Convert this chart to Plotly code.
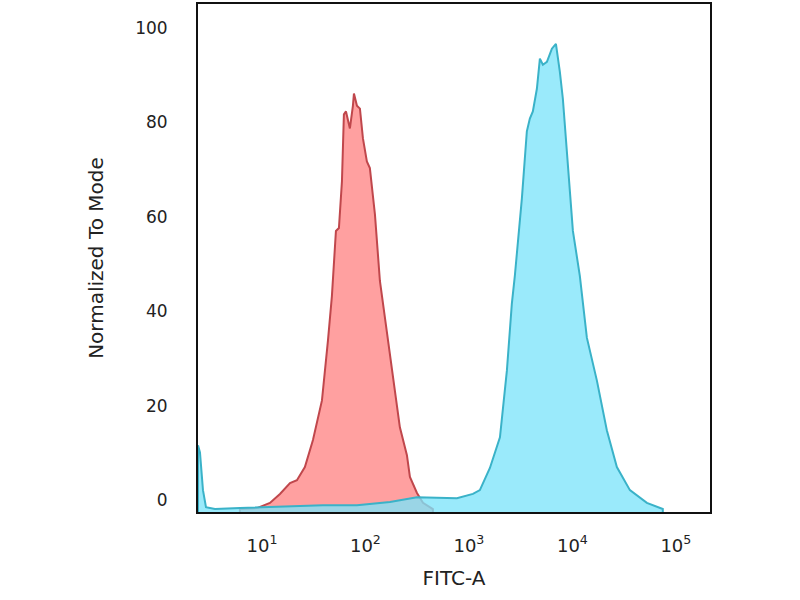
import plotly.graph_objects as go

# Red histogram (isotype/control): log10(FITC-A) and normalized-to-mode values
red_log_fitc = [0.787, 0.952, 1.077, 1.174, 1.271, 1.338, 1.415, 1.493, 1.580, 1.638,
                1.676, 1.715, 1.744, 1.773, 1.792, 1.812, 1.850, 1.879, 1.889, 1.918,
                1.947, 1.976, 2.014, 2.043, 2.092, 2.140, 2.217, 2.304, 2.333, 2.401,
                2.430, 2.498, 2.556, 2.652]
red_mode = [-1.9, -1.7, -0.6, 1.3, 3.6, 4.2, 7.0, 12.7, 21.1, 33.8,
            43.2, 57.0, 57.6, 67.5, 81.7, 82.3, 78.7, 83.5, 86.1, 83.5,
            82.9, 76.6, 71.7, 70.3, 60.5, 46.4, 33.8, 19.6, 15.4, 9.5,
            4.9, 1.5, -0.6, -1.9]

# Cyan histogram (stained sample)
blue_log_fitc = [0.382, 0.401, 0.430, 0.459, 0.546, 0.787, 1.077, 1.589, 1.918, 2.237,
                 2.498, 2.884, 3.039, 3.106, 3.203, 3.300, 3.367, 3.415, 3.444, 3.512,
                 3.560, 3.589, 3.618, 3.657, 3.686, 3.715, 3.754, 3.802, 3.841, 3.879,
                 3.908, 3.957, 4.005, 4.072, 4.140, 4.237, 4.333, 4.430, 4.556, 4.720,
                 4.874]
blue_mode = [11.6, 10.1, 2.1, -1.5, -1.9, -1.7, -1.5, -1.1, -1.1, -0.4,
             0.6, 0.4, 1.3, 2.1, 6.8, 13.3, 27.4, 41.6, 47.5, 63.9,
             78.1, 80.8, 82.3, 87.1, 93.5, 92.2, 92.8, 95.6, 96.6, 90.7,
             85.0, 71.1, 57.0, 47.5, 34.4, 25.3, 14.8, 7.0, 2.1, -0.6,
             -1.9]

y_ticks = [0, 20, 40, 60, 80, 100]
x_ticks = [10, 100, 1000, 10000, 100000]
x_tick_text = ["10<sup>1</sup>", "10<sup>2</sup>", "10<sup>3</sup>", "10<sup>4</sup>", "10<sup>5</sup>"]

FLOOR = -5


def closed(logs, vals):
    xs = [10 ** logs[0]] + [10 ** v for v in logs] + [10 ** logs[-1]]
    ys = [FLOOR] + list(vals) + [FLOOR]
    return xs, ys


rx, ry = closed(red_log_fitc, red_mode)
bx, by = closed(blue_log_fitc, blue_mode)

fig = go.Figure()
fig.add_trace(go.Scatter(x=rx, y=ry, mode="lines", fill="toself",
                         fillcolor="rgba(255,160,160,1)",
                         line=dict(color="#c0474c", width=2), hoverinfo="skip"))
fig.add_trace(go.Scatter(x=bx, y=by, mode="lines", fill="toself",
                         fillcolor="rgba(125,228,250,0.78)",
                         line=dict(color="#3ab2c8", width=2), hoverinfo="skip"))

font = "DejaVu Sans"
fig.update_layout(
    width=800, height=600,
    margin=dict(l=198, r=90, t=2, b=88),
    paper_bgcolor="white", plot_bgcolor="white",
    showlegend=False,
    font=dict(family=font, color="#222222"),
)
fig.update_xaxes(type="log", range=[0.382, 5.33],
                 tickvals=x_ticks, ticktext=x_tick_text,
                 tickfont=dict(size=18, family=font, color="#222222"),
                 ticks="", ticklabelstandoff=16,
                 showgrid=False, zeroline=False,
                 showline=True, linecolor="#111111", linewidth=2, mirror=True,
                 title=dict(text="FITC-A", font=dict(size=20, family=font, color="#222222"),
                            standoff=16))
fig.update_yaxes(range=[-2.53, 105.06],
                 tickvals=y_ticks,
                 tickfont=dict(size=17, family=font, color="#222222"),
                 ticks="", ticklabelstandoff=25,
                 showgrid=False, zeroline=False,
                 showline=True, linecolor="#111111", linewidth=2, mirror=True,
                 title=dict(text="Normalized To Mode", font=dict(size=20, family=font, color="#222222"),
                            standoff=26))

fig.write_html("out.html", config={"displayModeBar": False},
               post_script="document.body.style.margin='0';")
